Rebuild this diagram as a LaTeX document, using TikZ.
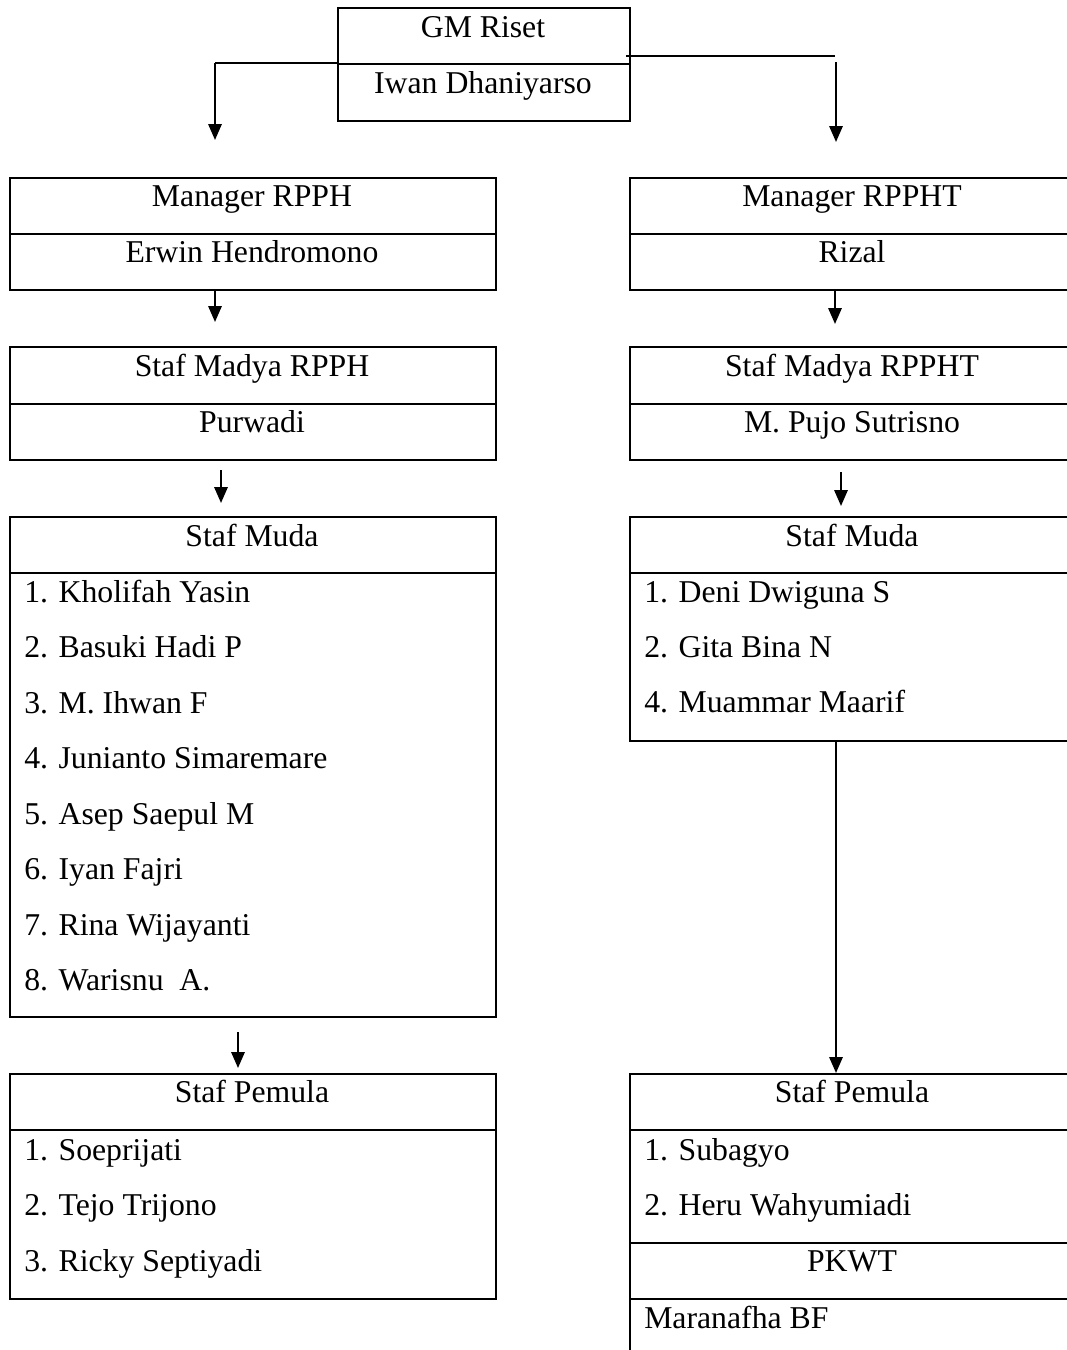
\documentclass[tikz,border=0pt]{standalone}
\usepackage{fontspec}
\setmainfont{Liberation Serif}
\usetikzlibrary{arrows.meta,calc}

\begin{document}
\begin{tikzpicture}[x=0.75pt,y=-0.75pt,
  cell/.style 2 args={draw, line width=1.6pt, anchor=north west, inner sep=0pt,
    minimum width={#1*0.75pt}, minimum height={#2*0.75pt}},
  txt/.style={inner sep=0pt, font=\fontsize{23.8}{28}\selectfont},
  lbl/.style={txt, anchor=base},
  item/.style={txt, anchor=base west},
  arr/.style={line width=1.6pt, -{Triangle[length=12pt,width=10pt]}},
  link/.style={line width=1.1pt}]

\useasboundingbox (0,0) rectangle (1067,1350);
\fill[white] (0,0) rectangle (1067,1350);
\clip (0,0) rectangle (1067,1350);

% ---- GM Riset ----
\node[cell={292}{56}] (gmH) at (337,7) {};
\node[cell={292}{57}] (gmN) at (337,63) {};
\node[lbl] (gmHt) at (483,37) {GM Riset};
\node[lbl] (gmNt) at (483,93) {Iwan Dhaniyarso};

% ---- left column: RPPH ----
\node[cell={486}{56}] (mgrLH) at (9,177) {};
\node[cell={486}{56}] (mgrLN) at (9,233) {};
\node[lbl] (mgrLHt) at (252,206) {Manager RPPH};
\node[lbl] (mgrLNt) at (252,262) {Erwin Hendromono};

\node[cell={486}{57}] (madLH) at (9,346) {};
\node[cell={486}{56}] (madLN) at (9,403) {};
\node[lbl] (madLHt) at (252,376) {Staf Madya RPPH};
\node[lbl] (madLNt) at (252,432) {Purwadi};

\node[cell={486}{56}] (mudaLH) at (9,516) {};
\node[cell={486}{444}] (mudaLL) at (9,572) {};
\node[lbl] (mudaLHt) at (252,546) {Staf Muda};
\node[item] (mL1) at (24,602) {1. Kholifah Yasin};
\node[item] (mL2) at (24,657.5) {2. Basuki Hadi P};
\node[item] (mL3) at (24,713) {3. M. Ihwan F};
\node[item] (mL4) at (24,768.5) {4. Junianto Simaremare};
\node[item] (mL5) at (24,824) {5. Asep Saepul M};
\node[item] (mL6) at (24,879.5) {6. Iyan Fajri};
\node[item] (mL7) at (24,935) {7. Rina Wijayanti};
\node[item] (mL8) at (24,990) {8. Warisnu\ \ A.};

\node[cell={486}{56}] (pemLH) at (9,1073) {};
\node[cell={486}{169}] (pemLL) at (9,1129) {};
\node[lbl] (pemLHt) at (252,1102) {Staf Pemula};
\node[item] (pL1) at (24,1160) {1. Soeprijati};
\node[item] (pL2) at (24,1215) {2. Tejo Trijono};
\node[item] (pL3) at (24,1271) {3. Ricky Septiyadi};

% ---- right column: RPPHT ----
\node[cell={480}{56}] (mgrRH) at (629,177) {};
\node[cell={480}{56}] (mgrRN) at (629,233) {};
\node[lbl] (mgrRHt) at (852,206) {Manager RPPHT};
\node[lbl] (mgrRNt) at (852,262) {Rizal};

\node[cell={480}{57}] (madRH) at (629,346) {};
\node[cell={480}{56}] (madRN) at (629,403) {};
\node[lbl] (madRHt) at (852,376) {Staf Madya RPPHT};
\node[lbl] (madRNt) at (852,432) {M. Pujo Sutrisno};

\node[cell={480}{56}] (mudaRH) at (629,516) {};
\node[cell={480}{168}] (mudaRL) at (629,572) {};
\node[lbl] (mudaRHt) at (852,546) {Staf Muda};
\node[item] (mR1) at (644,602) {1. Deni Dwiguna S};
\node[item] (mR2) at (644,657) {2. Gita Bina N};
\node[item] (mR4) at (644,712) {4. Muammar Maarif};

\node[cell={480}{56}] (pemRH) at (629,1073) {};
\node[cell={480}{113}] (pemRL) at (629,1129) {};
\node[cell={480}{56}] (pkwtH) at (629,1242) {};
\node[cell={480}{110}] (pkwtL) at (629,1298) {};
\node[lbl] (pemRHt) at (852,1102) {Staf Pemula};
\node[item] (pR1) at (644,1160) {1. Subagyo};
\node[item] (pR2) at (644,1215) {2. Heru Wahyumiadi};
\node[lbl] (pkwtHt) at (852,1271) {PKWT};
\node[item] (pkwtLt) at (644,1328) {Maranafha BF};

% ---- connector end points ----
\coordinate (tGL) at (215,140);
\coordinate (jR)  at (835,56);
\coordinate (sGR) at (836,62);
\coordinate (tGR) at (836,142);
\coordinate (tL1) at (215,322);
\coordinate (tR1) at (835,324);
\coordinate (sL2) at (221,470);
\coordinate (tL2) at (221,503);
\coordinate (sR2) at (841,472);
\coordinate (tR2) at (841,506);
\coordinate (sL3) at (238,1032);
\coordinate (tL3) at (238,1068);
\coordinate (cR)  at (836,0);

% ---- connectors ----
\draw[link] (gmN.north west) -| (tGL |- gmN.north west);
\draw[arr] (tGL |- gmN.north west) -- (tGL);
\draw[link] ($(gmH.east |- jR)+(-5,0)$) -- (jR);
\draw[arr] (sGR) -- (tGR);

\draw[arr] (mgrLN.south -| tL1) -- (tL1);
\draw[arr] (mgrRN.south -| tR1) -- (tR1);
\draw[arr] (sL2) -- (tL2);
\draw[arr] (sR2) -- (tR2);
\draw[arr] (sL3) -- (tL3);
\draw[arr] (mudaRL.south -| cR) -- (pemRH.north -| cR);
\end{tikzpicture}
\end{document}
